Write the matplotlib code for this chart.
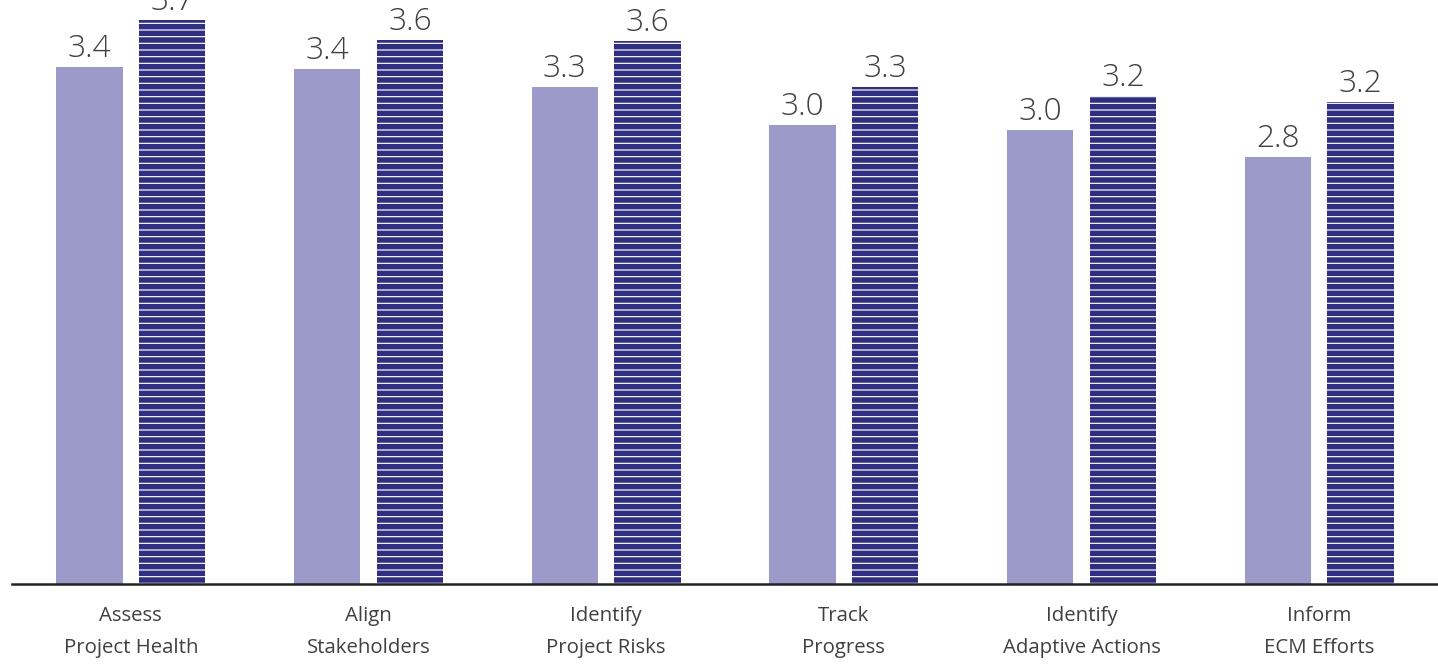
import matplotlib
matplotlib.use("Agg")
import matplotlib.pyplot as plt
import numpy as np

categories = ["Assess\nProject Health", "Align\nStakeholders", "Identify\nProject Risks",
              "Track\nProgress", "Identify\nAdaptive Actions", "Inform\nECM Efforts"]
series_a = [3.39, 3.38, 3.26, 3.01, 2.98, 2.80]
series_b = [3.70, 3.57, 3.56, 3.26, 3.20, 3.16]

light = "#9b9ac9"
dark = "#302e80"
text_col = "#404040"

plt.rcParams['font.family'] = ['Open Sans', 'DejaVu Sans']
plt.rcParams['hatch.linewidth'] = 0.7
plt.rcParams['hatch.color'] = 'white'

dpi = 120
fig = plt.figure(figsize=(1438 / dpi, 665 / dpi), dpi=dpi)
ax = fig.add_axes([12 / 1438, 81 / 665, 1 - 12 / 1438, 1 - 81 / 665])

x = np.arange(len(categories))
w = 0.28
off = 0.174
b1 = ax.bar(x - off, series_a, w, color=light, linewidth=0)
b2 = ax.bar(x + off, series_b, w, color=dark, edgecolor='white', hatch='---', linewidth=0)

for bars, vals in ((b1, series_a), (b2, series_b)):
    for r, v in zip(bars, vals):
        ax.text(r.get_x() + r.get_width() / 2, v + 0.012, f"{v:.1f}",
                ha='center', va='bottom', fontsize=19, fontweight='light', color=text_col)

ax.set_xlim(-0.5, 5.5)
ax.set_ylim(0, 3.83)
ax.set_xticks(x)
ax.set_xticklabels(categories, fontsize=12.2, color=text_col, linespacing=1.85)
ax.tick_params(axis='x', length=0, pad=13)
ax.set_yticks([])
for s in ['top', 'right', 'left']:
    ax.spines[s].set_visible(False)
ax.spines['bottom'].set_color('#222222')
ax.spines['bottom'].set_linewidth(1.5)

fig.savefig("out.png", dpi=dpi)
